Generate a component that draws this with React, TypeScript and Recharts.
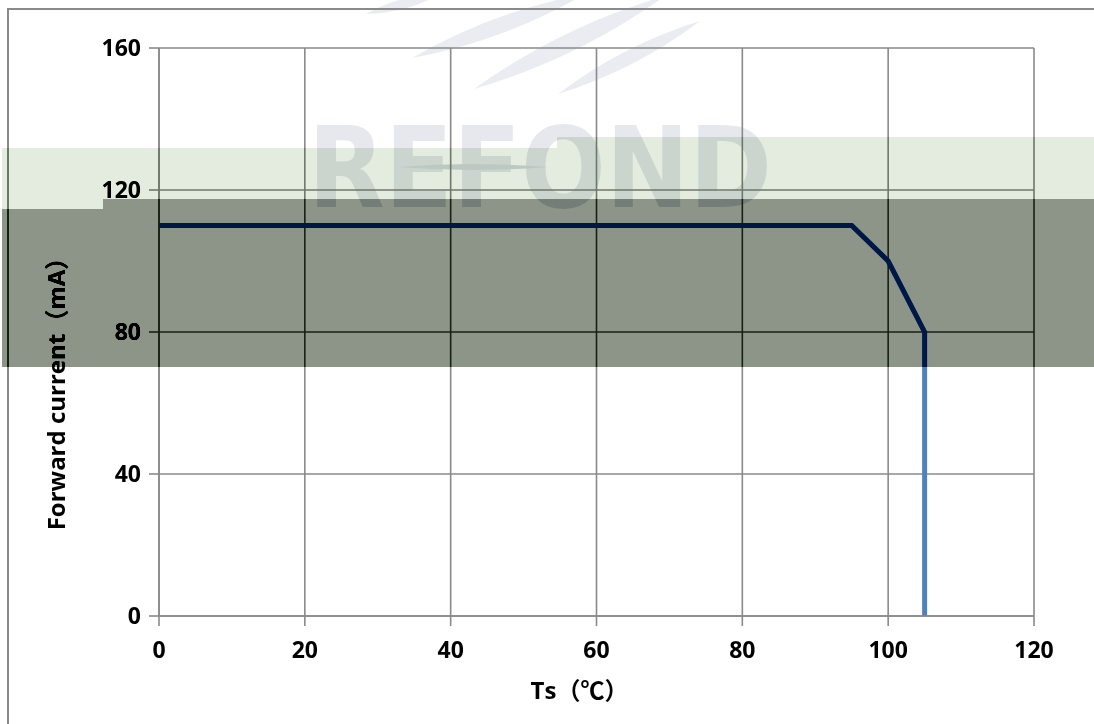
import React from "react";
import { LineChart, Line, XAxis, YAxis, CartesianGrid } from "recharts";

// derating curve
const tempC = [0, 95, 100, 105, 105];
const currentMA = [110, 110, 100, 80, 0];
const xTicks = [0, 20, 40, 60, 80, 100, 120];
const yTicks = [0, 40, 80, 120, 160];

const data = tempC.map((t, i) => ({ ts: t, current: currentMA[i] }));

const W = 1094;
const H = 724;
const FONT = "'Open Sans', Lato, 'Noto Sans CJK SC', sans-serif";
const GRID = "#8a8a8a";

// tapered leaf for the logo watermark
const leaf = (x1: number, y1: number, x2: number, y2: number, w: number) => {
  const mx = (x1 + x2) / 2;
  const my = (y1 + y2) / 2;
  const dx = x2 - x1;
  const dy = y2 - y1;
  const len = Math.hypot(dx, dy);
  const nx = (-dy / len) * w;
  const ny = (dx / len) * w;
  return `M${x1},${y1} Q${mx + nx},${my + ny} ${x2},${y2} Q${mx - nx},${my - ny} ${x1},${y1} Z`;
};

const Watermark = () => (
  <svg width={W} height={H} style={{ position: "absolute", left: 0, top: 0 }}>
    <g fill="#eaecf2">
      <path d={leaf(366, 14, 440, -6, 10)} />
      <path d={leaf(412, 58, 585, -6, 16)} />
      <path d={leaf(474, 89, 665, -4, 18)} />
      <path d={leaf(558, 94, 700, 21, 14)} />
    </g>
    <text
      x={308}
      y={207}
      fill="#e6e8ee"
      fontFamily="'DejaVu Sans', sans-serif"
      fontWeight="bold"
      fontSize={112}
      textLength={464}
      lengthAdjust="spacingAndGlyphs"
    >
      REFOND
    </text>
    <path d={leaf(398, 167, 548, 167, 6)} fill="#d8dbe2" />
  </svg>
);

const YLabel = (props: any) => {
  const vb = props.viewBox;
  const x = vb.x - 4;
  const y = vb.y + vb.height / 2 + 56;
  return (
    <text
      x={x}
      y={y}
      transform={`rotate(-90, ${x}, ${y})`}
      textAnchor="middle"
      dominantBaseline="central"
      fontFamily={FONT}
      fontWeight="bold"
      fontSize={24}
      fill="#000"
    >
      Forward current（mA）
    </text>
  );
};

const XLabel = (props: any) => {
  const vb = props.viewBox;
  return (
    <text
      x={vb.x + vb.width / 2 - 17}
      y={699}
      textAnchor="middle"
      fontFamily={FONT}
      fontWeight="bold"
      fontSize={24}
      fill="#000"
    >
      Ts（℃）
    </text>
  );
};

const tickStyle = { fontFamily: FONT, fontWeight: "bold", fontSize: 23, fill: "#000" };

export default function App() {
  return (
    <div>
      {/* scanned highlight bands, "linear burn" over whatever lies below */}
      <svg width={0} height={0} style={{ position: "absolute" }}>
        <filter
          id="scanBands"
          filterUnits="userSpaceOnUse"
          primitiveUnits="userSpaceOnUse"
          x={0}
          y={0}
          width={W}
          height={H}
          colorInterpolationFilters="sRGB"
        >
          <feFlood floodColor="#ffffff" x={0} y={0} width={W} height={H} result="base" />
          <feFlood floodColor="#e4ecdf" x={2} y={148} width={555} height={61} result="l1" />
          <feFlood floodColor="#e4ecdf" x={557} y={137} width={537} height={62} result="l2" />
          <feFlood floodColor="#8d9488" x={2} y={209} width={101} height={158} result="d1" />
          <feFlood floodColor="#8d9488" x={103} y={199} width={991} height={168} result="d2" />
          <feMerge result="mask">
            <feMergeNode in="base" />
            <feMergeNode in="l1" />
            <feMergeNode in="l2" />
            <feMergeNode in="d1" />
            <feMergeNode in="d2" />
          </feMerge>
          <feComposite in="SourceGraphic" in2="mask" operator="arithmetic" k1={0} k2={1} k3={1} k4={-1} />
        </filter>
      </svg>
      <div
        style={{
          position: "absolute",
          left: 0,
          top: 0,
          width: W,
          height: H,
          background: "#fff",
          overflow: "hidden",
          filter: "url(#scanBands)",
        }}
      >
        <Watermark />
        <div
          style={{
            position: "absolute",
            left: 7,
            top: 8,
            width: W,
            height: H,
            borderTop: `2px solid ${GRID}`,
            borderLeft: `2px solid ${GRID}`,
          }}
        />
        <div style={{ position: "absolute", left: 0, top: 0 }}>
          <LineChart width={W} height={H} data={data} margin={{ top: 48, right: 60, left: 59, bottom: 48 }}>
            <CartesianGrid stroke={GRID} strokeWidth={1.6} strokeDasharray="" />
            <XAxis
              dataKey="ts"
              type="number"
              domain={[0, 120]}
              ticks={xTicks}
              interval={0}
              height={60}
              tickSize={10}
              tickMargin={16}
              stroke={GRID}
              strokeWidth={1.6}
              tick={tickStyle}
              label={<XLabel />}
            />
            <YAxis
              type="number"
              domain={[0, 160]}
              ticks={yTicks}
              interval={0}
              width={100}
              tickSize={10}
              tickMargin={8}
              stroke={GRID}
              strokeWidth={1.6}
              tick={tickStyle}
              label={<YLabel />}
            />
            <Line
              dataKey="current"
              type="linear"
              stroke="#4f81bd"
              strokeWidth={5}
              dot={false}
              activeDot={false}
              isAnimationActive={false}
            />
          </LineChart>
        </div>
      </div>
    </div>
  );
}
